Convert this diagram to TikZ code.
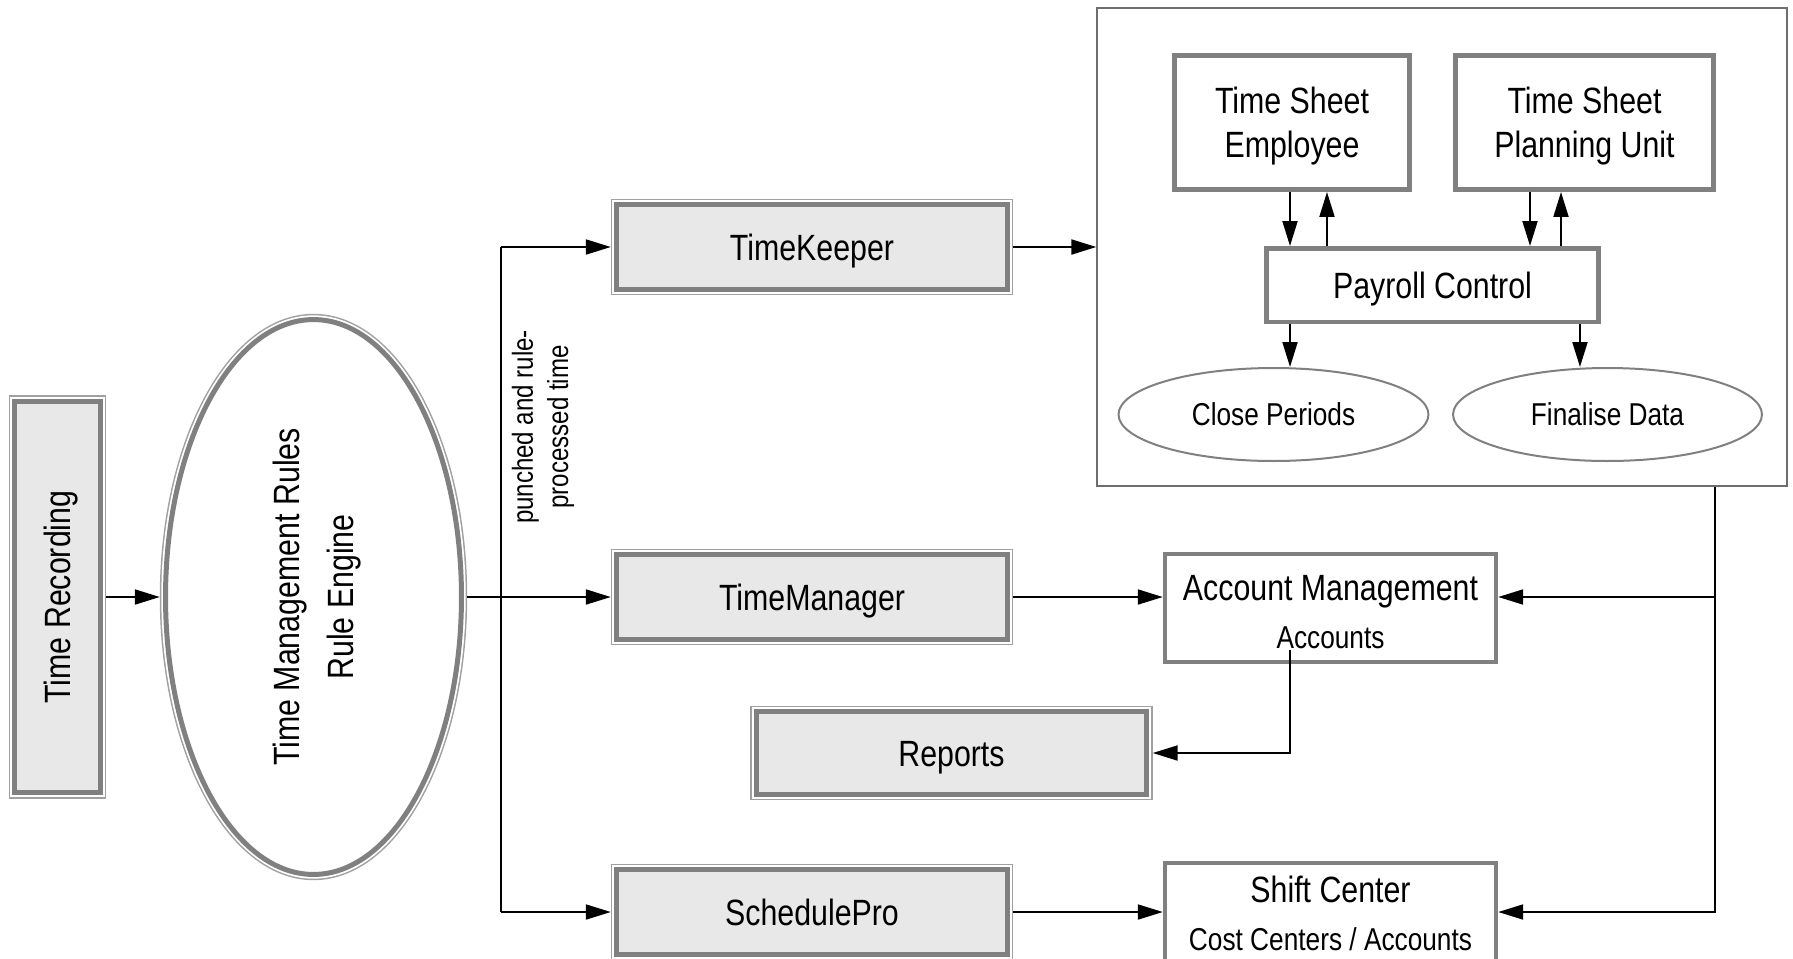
\documentclass[tikz,border=0pt]{standalone}
\usepackage{fontspec}
\setmainfont{Liberation Sans}[FakeStretch=0.83]
\usepackage{tikz}
\usetikzlibrary{shapes.geometric, arrows.meta}

\definecolor{boxGray}{HTML}{808080}
\definecolor{rimGray}{HTML}{A0A0A0}
\definecolor{boxFill}{HTML}{E8E8E8}
\definecolor{panelGray}{HTML}{6E6E6E}

\newcommand{\bigFont}{\fontsize{20.8}{25}\selectfont}
\newcommand{\smallFont}{\fontsize{18}{21}\selectfont}
\newcommand{\noteFont}{\fontsize{16.5}{20}\selectfont}

\begin{document}
\begin{tikzpicture}[
    x=0.02cm, y=-0.02cm,
    >={Triangle[length=0.5cm, width=0.3cm]},
    flow/.style={->, line width=0.04cm},
    plainLine/.style={line width=0.04cm},
    doubleRim/.style={
        draw=boxGray, line width=0.1cm,
        preaction={draw=rimGray, line width=0.23cm},
        preaction={draw=white, line width=0.17cm},
        outer sep=0.115cm},
    appBox/.style={rectangle, doubleRim, fill=boxFill, text height=14.9pt, text depth=0pt},
    appWidth/.style={minimum width=7.82cm},
    appHeight/.style={minimum height=1.70cm},
    innerBox/.style={rectangle, draw=boxGray, line width=0.09cm, fill=white, align=center},
    stepEllipse/.style={ellipse, draw=boxGray, line width=0.04cm, fill=white, font=\smallFont,
        minimum height=1.86cm, text height=12.9pt, text depth=0pt},
    labelText/.style={inner sep=1pt, anchor=base},
    every node/.style={font=\bigFont}
    ]
    \useasboundingbox (0,0) rectangle (1793,958);

    % left part
    \node[appBox, rotate=90, minimum width=7.84cm, minimum height=1.72cm] (tr) at (57.5,597) {Time Recording};
    \node[ellipse, doubleRim, fill=white, rotate=90, align=center, minimum width=11.1cm, minimum height=5.92cm,
        text depth=-3pt, font=\fontsize{20.8}{30.5}\selectfont] (engine) at (313.5,597) {Time Management Rules\\Rule Engine};
    \coordinate (trunk) at (501,597);

    \node[font=\noteFont, rotate=90, align=center] (note) at (543,427) {punched and rule-\\processed time};

    \node[appBox, appWidth, appHeight] (tk) at (812,247) {TimeKeeper};
    \node[appBox, appWidth, appHeight] (tm) at (812,597) {TimeManager};
    \node[appBox, appWidth, appHeight] (sp) at (812,912) {SchedulePro};
    \node[appBox, appWidth, minimum height=1.66cm] (rep) at (951.5,753) {Reports};

    % payroll panel
    \node[draw=panelGray, line width=0.03cm, minimum width=13.8cm, minimum height=9.56cm] (panel) at (1442,247) {};
    \node[innerBox, minimum width=4.71cm, minimum height=2.69cm, text depth=-3pt] (emp) at (1292,122.5) {Time Sheet\\Employee};
    \node[innerBox, minimum width=5.17cm, minimum height=2.69cm, text depth=-3pt] (plan) at (1584.5,122.5) {Time Sheet\\Planning Unit};
    \node[innerBox, minimum width=6.65cm, minimum height=1.47cm, text height=14.9pt, text depth=0pt] (payroll) at (1432.5,285) {Payroll Control};
    \node[stepEllipse, minimum width=6.2cm] (close) at (1273.5,414.5) {Close Periods};
    \node[stepEllipse, minimum width=6.18cm] (final) at (1607.5,414.5) {Finalise Data};

    % account and shift boxes
    \node[innerBox, minimum width=6.62cm, minimum height=2.16cm] (am) at (1330.5,608) {};
    \node[labelText] (amName) at (1330.5,600) {Account Management};
    \node[labelText, font=\smallFont] (amAcc) at (1330.5,648) {Accounts};
    \node[innerBox, minimum width=6.62cm, minimum height=2.16cm] (shift) at (1330.5,917) {};
    \node[labelText] (shiftName) at (1330.5,902) {Shift Center};
    \node[labelText, font=\smallFont] (shiftSub) at (1330.5,950) {Cost Centers / Accounts};

    \draw[flow] (tr) -- (engine);
    \draw[flow] (engine) -- (tm);
    \draw[plainLine] (trunk |- tk) -- (trunk |- sp);
    \draw[flow] (trunk |- tk) -- (tk);
    \draw[flow] (trunk |- sp) -- (sp);
    \draw[flow] (tk) -- (panel);
    \draw[flow] (tm) -- (tm -| am.west);
    \draw[flow] (sp) -- (sp -| shift.west);

    \draw[flow] ([xshift=-0.04cm]emp.south) -- ([xshift=-0.04cm]emp.south |- payroll.north);
    \draw[flow] ([xshift=0.7cm]emp.south |- payroll.north) -- ([xshift=0.7cm]emp.south);
    \draw[flow] ([xshift=-1.09cm]plan.south) -- ([xshift=-1.09cm]plan.south |- payroll.north);
    \draw[flow] ([xshift=-0.47cm]plan.south |- payroll.north) -- ([xshift=-0.47cm]plan.south);
    \draw[flow] ([xshift=-2.85cm]payroll.south) -- ([xshift=-2.85cm]payroll.south |- close.north);
    \draw[flow] ([xshift=2.95cm]payroll.south) -- ([xshift=2.95cm]payroll.south |- final.north);

    \coordinate (fbTop) at ([xshift=5.46cm]panel.south);
    \draw[flow] (fbTop) |- (shift.east |- sp);
    \draw[flow] (fbTop |- tm) -- (am.east |- tm);
    \draw[flow] ([xshift=-0.81cm]amAcc.south) |- (rep);
\end{tikzpicture}
\end{document}
